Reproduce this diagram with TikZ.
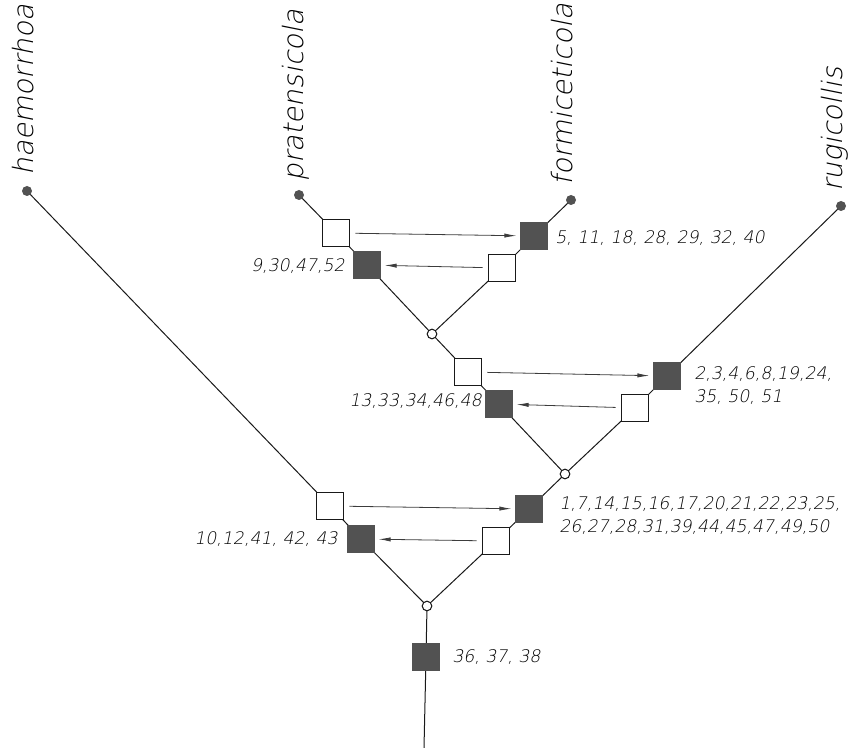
\documentclass[tikz,border=0pt]{standalone}
\usepackage{fontspec}
\newfontfamily\lblfont[FakeSlant=0.2]{DejaVu Sans ExtraLight}
\usetikzlibrary{arrows.meta,backgrounds}
\definecolor{boxgray}{RGB}{82,82,82}
\definecolor{ink}{RGB}{25,25,25}
\begin{document}
\begin{tikzpicture}[x=0.75pt,y=-0.75pt,
  openbox/.style={draw=ink, line width=1.2pt, fill=white, minimum size=20.5pt, inner sep=0pt},
  fullbox/.style={fill=boxgray, minimum size=21.5pt, inner sep=0pt},
  tipdot/.style={circle, fill=boxgray, minimum size=7.5pt, inner sep=0pt},
  junc/.style={circle, draw=ink, fill=white, line width=0.8pt, minimum size=7.2pt, inner sep=0pt},
  branch/.style={draw=ink, line width=0.75pt},
  arr/.style={draw=ink!85, line width=0.6pt, -{Latex[length=9pt,width=3.2pt]}, shorten <=3.75pt, shorten >=2.25pt},
  num/.style={font=\lblfont\fontsize{13}{17.5}\selectfont, text=black, inner sep=0pt, align=left},
  spname/.style={font=\lblfont\fontsize{21}{25}\selectfont, text=black, inner sep=0pt, rotate=90, anchor=base west},
]
\useasboundingbox (0,0) rectangle (853,748);

% tips
\node[tipdot] (th) at (27,191) {};
\node[tipdot] (tp) at (299,195) {};
\node[tipdot] (tf) at (571,200) {};
\node[tipdot] (tr) at (841,206) {};

% species names
\node[spname] (nh) at (33,176) {haemorrhoa};
\node[spname] (np) at (303,182) {pratensicola};
\node[spname] (nf) at (572,186) {formiceticola};
\node[spname] (nr) at (842,192) {rugicollis};

% level 1
\node[openbox] (po) at (336,233) {};
\node[fullbox] (pf) at (367,265) {};
\node[fullbox] (ff) at (534,236) {};
\node[openbox] (fo) at (502,268) {};
\node[junc] (j1) at (432,334) {};

% level 2
\node[openbox] (qo) at (468,372) {};
\node[fullbox] (qf) at (499,404) {};
\node[fullbox] (rf) at (667,376) {};
\node[openbox] (ro) at (635,408) {};
\node[junc] (j2) at (565,474) {};

% level 3
\node[openbox] (ho) at (330,506) {};
\node[fullbox] (hf) at (361,539) {};
\node[fullbox] (sf) at (529,509) {};
\node[openbox] (so) at (496,541) {};
\node[junc] (j3) at (427,606) {};

% root
\node[fullbox] (root) at (426,657) {};
\coordinate (bot) at (424,748);

% branches
\begin{scope}[on background layer]
  \draw[branch] (tp.center) -- (po.center) -- (pf.center) -- (j1.center);
  \draw[branch] (tf.center) -- (ff.center) -- (fo.center) -- (j1.center);
  \draw[branch] (j1.center) -- (qo.center) -- (qf.center) -- (j2.center);
  \draw[branch] (tr.center) -- (rf.center) -- (ro.center) -- (j2.center);
  \draw[branch] (j2.center) -- (sf.center) -- (so.center) -- (j3.center);
  \draw[branch] (th.center) -- (ho.center) -- (hf.center) -- (j3.center);
  \draw[branch] (j3.center) -- (root.center) -- (bot);
\end{scope}

% arrows
\draw[arr] (po) -- (ff);
\draw[arr] (fo) -- (pf);
\draw[arr] (qo) -- (rf);
\draw[arr] (ro) -- (qf);
\draw[arr] (ho) -- (sf);
\draw[arr] (so) -- (hf);

% labels
\node[num, anchor=west] (lff) at (555,238) {5, 11, 18, 28, 29, 32, 40};
\node[num, anchor=east] (lpf) at (345,266) {9,30,47,52};
\node[num, anchor=north west] (lrf) at (694,366) {2,3,4,6,8,19,24,\\35, 50, 51};
\node[num, anchor=east] (lqf) at (482,401) {13,33,34,46,48};
\node[num, anchor=north west] (lsf) at (559,496) {1,7,14,15,16,17,20,21,22,23,25,\\26,27,28,31,39,44,45,47,49,50};
\node[num, anchor=east] (lhf) at (338,539) {10,12,41, 42, 43};
\node[num, anchor=west] (lroot) at (452,657) {36, 37, 38};
\end{tikzpicture}
\end{document}
